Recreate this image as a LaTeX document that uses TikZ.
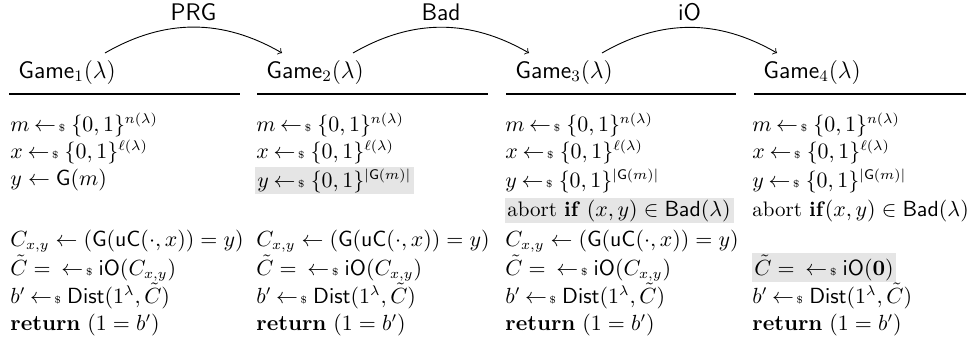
\documentclass[tikz,border=0pt]{standalone}
\usepackage{amsmath,amssymb}
\usetikzlibrary{fit,backgrounds}
\newcommand{\smp}{\hskip2.3pt{\gets\!\mbox{\tiny\$}}\;}
\tikzset{
  ln/.style={anchor=base west, inner sep=0pt, font=\fontsize{10.5}{12.6}\selectfont},
  hd/.style={anchor=base west, inner sep=0pt, font=\large},
  hop/.style={->, bend left=30, line width=0.45pt},
  hoplbl/.style={midway, above=3pt, inner sep=0pt, font=\large\sffamily},
  hl/.style={fill=gray!20, draw=none, inner xsep=1.2pt, inner ysep=0.6pt},
  rl/.style={line width=0.6pt}
}
\begin{document}
\begin{tikzpicture}[x=0.5pt,y=-0.5pt]
\useasboundingbox (0,0) rectangle (967,349);
% headers
\node[hd] (h1) at (18,78) {\textsf{Game}$_1(\lambda)$};
\node[hd] (h2) at (266,78) {\textsf{Game}$_2(\lambda)$};
\node[hd] (h3) at (515,78) {\textsf{Game}$_3(\lambda)$};
\node[hd] (h4) at (763,78) {\textsf{Game}$_4(\lambda)$};
% rules
\coordinate (r1a) at (9,94);   \coordinate (r1b) at (240,94);
\coordinate (r2a) at (257,94); \coordinate (r2b) at (488,94);
\coordinate (r3a) at (506,94); \coordinate (r3b) at (736,94);
\coordinate (r4a) at (754,94); \coordinate (r4b) at (966,94);
\draw[rl] (r1a) -- (r1b);
\draw[rl] (r2a) -- (r2b);
\draw[rl] (r3a) -- (r3b);
\draw[rl] (r4a) -- (r4b);
% hops
\coordinate (s1) at (105,53); \coordinate (e1) at (282,53);
\coordinate (s2) at (353,53); \coordinate (e2) at (529,53);
\coordinate (s3) at (602,53); \coordinate (e3) at (777,53);
\draw[hop] (s1) to node[hoplbl] (lprg) {PRG} (e1);
\draw[hop] (s2) to node[hoplbl] (lbad) {Bad} (e2);
\draw[hop] (s3) to node[hoplbl] (lio) {iO} (e3);
% Game 1
\node[ln] (g1m) at (10,131) {$m \smp \{0,1\}^{n(\lambda)}$};
\node[ln] (g1x) at (10,158) {$x \smp \{0,1\}^{\ell(\lambda)}$};
\node[ln] (g1y) at (10,185) {$y \leftarrow \mathsf{G}(m)$};
\node[ln] (g1c) at (10,246) {$C_{x,y} \leftarrow (\mathsf{G}(\mathsf{uC}(\cdot,x)) = y)$};
\node[ln] (g1t) at (10,275) {$\tilde{C} = \smp \mathsf{iO}(C_{x,y})$};
\node[ln] (g1b) at (10,303) {$b' \smp \mathsf{Dist}(1^{\lambda},\tilde{C})$};
\node[ln] (g1r) at (10,330) {$\mathbf{return}\ (1 = b')$};
% Game 2
\node[ln] (g2m) at (256,131) {$m \smp \{0,1\}^{n(\lambda)}$};
\node[ln] (g2x) at (256,158) {$x \smp \{0,1\}^{\ell(\lambda)}$};
\node[ln] (g2y) at (257,187) {$y \smp \{0,1\}^{|\mathsf{G}(m)|}$};
\node[ln] (g2c) at (256,246) {$C_{x,y} \leftarrow (\mathsf{G}(\mathsf{uC}(\cdot,x)) = y)$};
\node[ln] (g2t) at (256,275) {$\tilde{C} = \smp \mathsf{iO}(C_{x,y})$};
\node[ln] (g2b) at (256,303) {$b' \smp \mathsf{Dist}(1^{\lambda},\tilde{C})$};
\node[ln] (g2r) at (256,330) {$\mathbf{return}\ (1 = b')$};
% Game 3
\node[ln] (g3m) at (505,131) {$m \smp \{0,1\}^{n(\lambda)}$};
\node[ln] (g3x) at (505,158) {$x \smp \{0,1\}^{\ell(\lambda)}$};
\node[ln] (g3y) at (505,187) {$y \smp \{0,1\}^{|\mathsf{G}(m)|}$};
\node[ln] (g3a) at (507,216) {abort \textbf{if} $(x,y) \in \mathsf{Bad}(\lambda)$};
\node[ln] (g3c) at (505,246) {$C_{x,y} \leftarrow (\mathsf{G}(\mathsf{uC}(\cdot,x)) = y)$};
\node[ln] (g3t) at (505,275) {$\tilde{C} = \smp \mathsf{iO}(C_{x,y})$};
\node[ln] (g3b) at (505,303) {$b' \smp \mathsf{Dist}(1^{\lambda},\tilde{C})$};
\node[ln] (g3r) at (505,330) {$\mathbf{return}\ (1 = b')$};
% Game 4
\node[ln] (g4m) at (752,131) {$m \smp \{0,1\}^{n(\lambda)}$};
\node[ln] (g4x) at (752,158) {$x \smp \{0,1\}^{\ell(\lambda)}$};
\node[ln] (g4y) at (752,187) {$y \smp \{0,1\}^{|\mathsf{G}(m)|}$};
\node[ln] (g4a) at (752,216) {abort \textbf{if}$(x,y) \in \mathsf{Bad}(\lambda)$};
\node[ln] (g4t) at (754,275) {$\tilde{C} = \smp \mathsf{iO}(\mathbf{0})$};
\node[ln] (g4b) at (752,303) {$b' \smp \mathsf{Dist}(1^{\lambda},\tilde{C})$};
\node[ln] (g4r) at (752,330) {$\mathbf{return}\ (1 = b')$};
% highlights
\begin{scope}[on background layer]
\node[hl, fit=(g2y)] (hl2) {};
\node[hl, fit=(g3a)] (hl3) {};
\node[hl, fit=(g4t)] (hl4) {};
\end{scope}
\end{tikzpicture}
\end{document}
